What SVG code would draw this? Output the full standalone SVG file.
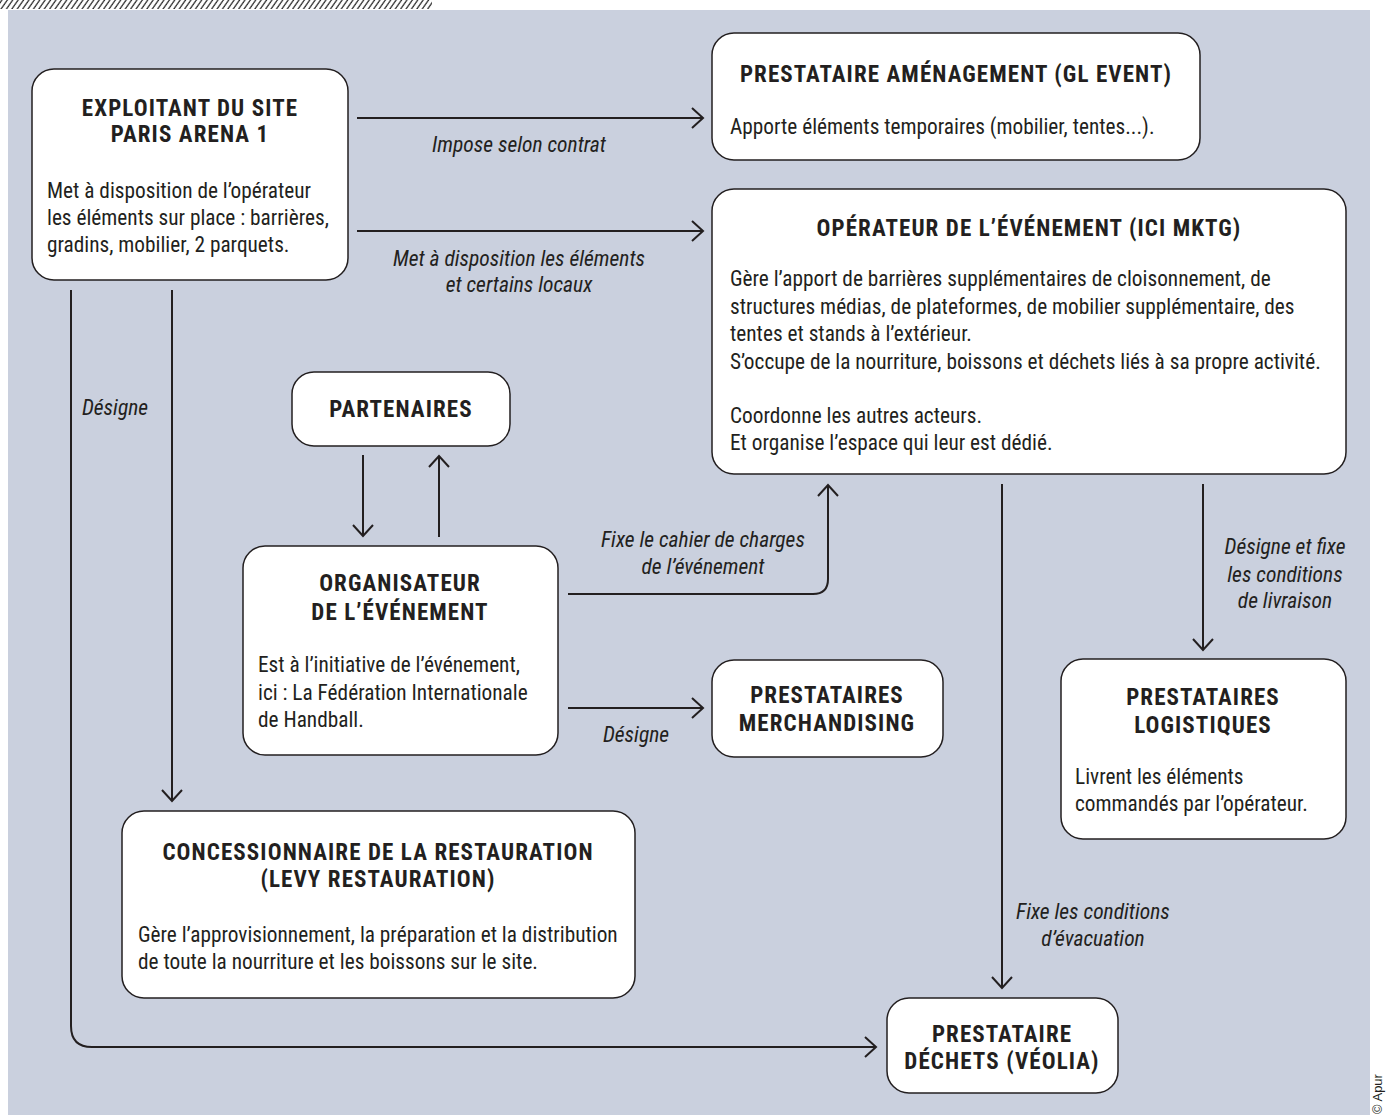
<svg xmlns="http://www.w3.org/2000/svg" width="1386" height="1115" viewBox="0 0 1386 1115">
  <defs>
    <pattern id="hatch" width="5.4" height="10" patternUnits="userSpaceOnUse" patternTransform="skewX(-35)">
      <line x1="2" y1="0" x2="2" y2="10" stroke="#333" stroke-width="1.6"/>
    </pattern>
    <marker id="arrow" markerUnits="userSpaceOnUse" markerWidth="30" markerHeight="30" viewBox="-15 -15 30 30" refX="0" refY="0" orient="auto">
      <path d="M-11,-10 L0,0 L-11,10" fill="none" stroke="#231f20" stroke-width="2" stroke-linejoin="miter"/>
    </marker>
    <style>
      .box { fill: #ffffff; stroke: #231f20; stroke-width: 1.5; }
      .t { font-family: 'Roboto Condensed', Roboto, 'Liberation Sans', sans-serif; font-weight: 700; font-size: 23px; fill: #231f20; text-anchor: middle; letter-spacing: 1.1px; }
      .b { font-family: 'Roboto Condensed', Roboto, 'Liberation Sans', sans-serif; font-size: 21.3px; fill: #231f20; }
      .l { font-family: 'Roboto Condensed', Roboto, 'Liberation Sans', sans-serif; font-style: italic; font-size: 21.5px; fill: #231f20; text-anchor: middle; }
      .c { fill: none; stroke: #231f20; stroke-width: 2; marker-end: url(#arrow); }
    </style>
  </defs>

  <!-- page background and hatched header strip -->
  <rect x="0" y="0" width="432" height="9" fill="url(#hatch)"/>
  <rect x="8" y="10" width="1362" height="1105" fill="#cad0de"/>
  <text x="1382" y="1114" transform="rotate(-90 1382 1114)" font-family="'Liberation Sans', Arial, sans-serif" font-size="13" fill="#231f20">© Apur</text>

  <!-- connectors -->
  <g id="connectors">
    <path class="c" d="M357,118 H703"/>
    <path class="c" d="M357,231 H703"/>
    <path class="c" d="M172,290 V801"/>
    <path class="c" d="M71,290 V1026 Q71,1047 92,1047 H876"/>
    <path class="c" d="M363,455 V536"/>
    <path class="c" d="M439,537 V456"/>
    <path class="c" d="M568,594 H813 Q828,594 828,579 V485"/>
    <path class="c" d="M568,708 H703"/>
    <path class="c" d="M1002,484 V988"/>
    <path class="c" d="M1203,484 V650"/>

    <text class="l" x="519" y="152">Impose selon contrat</text>
    <text class="l" x="519" y="266">Met à disposition les éléments</text>
    <text class="l" x="519" y="292">et certains locaux</text>
    <text class="l" x="115" y="415">Désigne</text>
    <text class="l" x="703" y="547">Fixe le cahier de charges</text>
    <text class="l" x="703" y="574">de l’événement</text>
    <text class="l" x="636" y="742">Désigne</text>
    <text class="l" x="1285" y="554">Désigne et fixe</text>
    <text class="l" x="1285" y="582">les conditions</text>
    <text class="l" x="1285" y="608">de livraison</text>
    <text class="l" x="1093" y="919">Fixe les conditions</text>
    <text class="l" x="1093" y="946">d’évacuation</text>
  </g>

  <!-- nodes -->
  <g id="exploitant">
    <rect class="box" x="32" y="69" width="316" height="211" rx="22"/>
    <text class="t" x="190" y="116">EXPLOITANT DU SITE</text>
    <text class="t" x="190" y="142">PARIS ARENA 1</text>
    <text class="b" x="47" y="198">Met à disposition de l’opérateur</text>
    <text class="b" x="47" y="225">les éléments sur place : barrières,</text>
    <text class="b" x="47" y="252">gradins, mobilier, 2 parquets.</text>
  </g>

  <g id="amenagement">
    <rect class="box" x="712" y="33" width="488" height="127" rx="22"/>
    <text class="t" x="956" y="82">PRESTATAIRE AMÉNAGEMENT (GL EVENT)</text>
    <text class="b" x="730" y="134">Apporte éléments temporaires (mobilier, tentes...).</text>
  </g>

  <g id="operateur">
    <rect class="box" x="712" y="189" width="634" height="285" rx="22"/>
    <text class="t" x="1029" y="236">OPÉRATEUR DE L’ÉVÉNEMENT (ICI MKTG)</text>
    <text class="b" x="730" y="286">Gère l’apport de barrières supplémentaires de cloisonnement, de</text>
    <text class="b" x="730" y="314">structures médias, de plateformes, de mobilier supplémentaire, des</text>
    <text class="b" x="730" y="341">tentes et stands à l’extérieur.</text>
    <text class="b" x="730" y="369">S’occupe de la nourriture, boissons et déchets liés à sa propre activité.</text>
    <text class="b" x="730" y="423">Coordonne les autres acteurs.</text>
    <text class="b" x="730" y="450">Et organise l’espace qui leur est dédié.</text>
  </g>

  <g id="partenaires">
    <rect class="box" x="292" y="372" width="218" height="74" rx="22"/>
    <text class="t" x="401" y="417">PARTENAIRES</text>
  </g>

  <g id="organisateur">
    <rect class="box" x="243" y="546" width="315" height="209" rx="22"/>
    <text class="t" x="400" y="591">ORGANISATEUR</text>
    <text class="t" x="400" y="620">DE L’ÉVÉNEMENT</text>
    <text class="b" x="258" y="672">Est à l’initiative de l’événement,</text>
    <text class="b" x="258" y="700">ici : La Fédération Internationale</text>
    <text class="b" x="258" y="727">de Handball.</text>
  </g>

  <g id="merchandising">
    <rect class="box" x="712" y="660" width="231" height="97" rx="22"/>
    <text class="t" x="827" y="703">PRESTATAIRES</text>
    <text class="t" x="827" y="731">MERCHANDISING</text>
  </g>

  <g id="logistiques">
    <rect class="box" x="1061" y="659" width="285" height="180" rx="22"/>
    <text class="t" x="1203" y="705">PRESTATAIRES</text>
    <text class="t" x="1203" y="733">LOGISTIQUES</text>
    <text class="b" x="1075" y="784">Livrent les éléments</text>
    <text class="b" x="1075" y="811">commandés par l’opérateur.</text>
  </g>

  <g id="concessionnaire">
    <rect class="box" x="122" y="811" width="513" height="187" rx="22"/>
    <text class="t" x="378" y="860">CONCESSIONNAIRE DE LA RESTAURATION</text>
    <text class="t" x="378" y="887">(LEVY RESTAURATION)</text>
    <text class="b" x="138" y="942">Gère l’approvisionnement, la préparation et la distribution</text>
    <text class="b" x="138" y="969">de toute la nourriture et les boissons sur le site.</text>
  </g>

  <g id="dechets">
    <rect class="box" x="887" y="998" width="231" height="95" rx="22"/>
    <text class="t" x="1002" y="1042">PRESTATAIRE</text>
    <text class="t" x="1002" y="1069">DÉCHETS (VÉOLIA)</text>
  </g>
</svg>
